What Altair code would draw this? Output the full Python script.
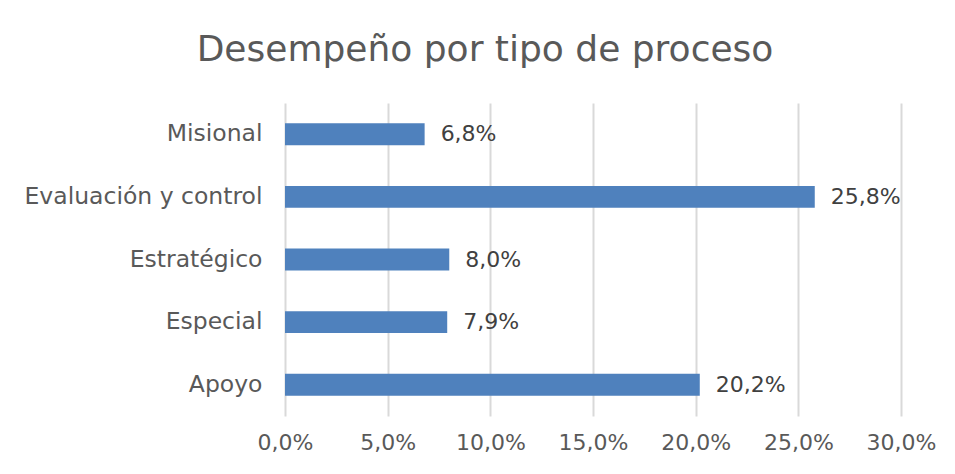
import altair as alt
import pandas as pd

categories = ["Misional", "Evaluación y control", "Estratégico", "Especial", "Apoyo"]
values = [6.8, 25.8, 8.0, 7.9, 20.2]
x_ticks = [0, 5, 10, 15, 20, 25, 30]

df = pd.DataFrame({"cat": categories, "val": values})
df["label"] = [f"{v:.1f}".replace(".", ",") + "%" for v in values]

FONT = "DejaVu Sans"
GRAY = "#595959"

y_enc = alt.Y("cat:N", sort=categories, title=None,
              scale=alt.Scale(paddingInner=0.65, paddingOuter=0.325),
              axis=alt.Axis(ticks=False, domain=False, labelFont=FONT, labelFontSize=23.5,
                            labelColor=GRAY, labelPadding=23, grid=False, labelLimit=400))
x_enc = alt.X("val:Q", title=None,
              scale=alt.Scale(domain=[0, 30], nice=False),
              axis=alt.Axis(values=x_ticks, ticks=False, domain=False, grid=True,
                            gridColor="#d9d9d9", gridWidth=2, labelFlush=False,
                            labelFont=FONT, labelFontSize=22, labelColor=GRAY, labelPadding=16,
                            labelExpr="replace(format(datum.value, '.1f'), '.', ',') + '%'"))

bars = alt.Chart(df).mark_bar(color="#4F81BD").encode(x=x_enc, y=y_enc)
texts = alt.Chart(df).mark_text(align="left", baseline="middle", dx=16, font=FONT,
                                fontSize=22, color="#404040").encode(
    x="val:Q", y=alt.Y("cat:N", sort=categories), text="label:N")

chart = alt.layer(bars, texts).properties(
    width=616, height=313,
    title=alt.TitleParams("Desempeño por tipo de proceso", font=FONT, fontSize=36,
                          fontWeight="normal", color=GRAY, dx=-108, dy=-30, anchor="middle"),
    autosize=alt.AutoSizeParams(type="none"),
    padding={"left": 277, "top": 95, "right": 46, "bottom": 50},
    background="white",
).configure_view(stroke=None)

chart.save("out.html", embed_options={"renderer": "svg", "actions": False})
